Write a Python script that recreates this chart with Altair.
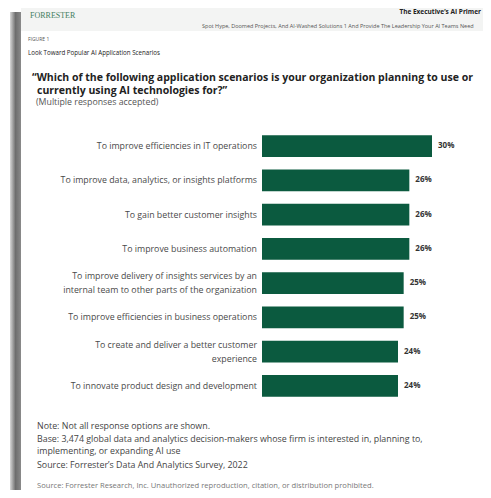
import altair as alt
import pandas as pd

categories = [
    "To improve efficiencies in IT operations",
    "To improve data, analytics, or insights platforms",
    "To gain better customer insights",
    "To improve business automation",
    "To improve delivery of insights services by an\ninternal team to other parts of the organization",
    "To improve efficiencies in business operations",
    "To create and deliver a better customer\nexperience",
    "To innovate product design and development",
]
values = [30, 26, 26, 26, 25, 25, 24, 24]
value_labels = ["30%", "26%", "26%", "26%", "25%", "25%", "24%", "24%"]

df = pd.DataFrame({"cat": categories, "val": values, "lab": value_labels})

FONT = "Open Sans"
W, H = 475, 482
OX, OY = 8, 8
GREEN = "#0b5a3f"

xs = alt.Scale(domain=[0, 30], range=[262 - OX, 432 - OX], nice=False, zero=True)
ys = alt.Scale(domain=categories, range=[121, 395], paddingInner=0.36, paddingOuter=0.18)

base = alt.Chart(df)
Y = alt.Y("cat:N", scale=ys, axis=None, sort=categories)

bars = base.mark_bar(color=GREEN).encode(
    x=alt.X("val:Q", scale=xs, axis=None), y=Y,
)

vals = base.mark_text(align="left", baseline="middle", dx=6, font=FONT,
                      fontSize=8, fontWeight="bold", color="#333333").encode(
    x=alt.X("val:Q", scale=xs, axis=None), y=Y, text="lab:N",
)

cats_one = base.transform_filter("indexof(datum.cat, '\\n') < 0").mark_text(
    align="right", baseline="middle", font=FONT, fontSize=8.8, color="#4a4a4a",
).encode(x=alt.value(257 - OX), y=Y, text="cat:N")

cats_two = base.transform_filter("indexof(datum.cat, '\\n') >= 0").mark_text(
    align="right", baseline="middle", font=FONT, fontSize=8.8, color="#4a4a4a",
    lineBreak="\n", lineHeight=14, dy=-7,
).encode(x=alt.value(257 - OX), y=Y, text="cat:N")


def one():
    return alt.Data(values=[{"k": 1}])


def txt(s, x, y, size, weight="normal", color="#333333", align="left", font=FONT):
    return alt.Chart(one()).mark_text(
        text=s, align=align, baseline="middle", fontSize=size, fontWeight=weight,
        color=color, font=font,
    ).encode(x=alt.value(x - OX), y=alt.value(y - OY))


def rect(x1, x2, y1, y2, color):
    return alt.Chart(one()).mark_rect(color=color).encode(
        x=alt.value(x1 - OX), x2=alt.value(x2 - OX),
        y=alt.value(y1 - OY), y2=alt.value(y2 - OY),
    )


header_bg = rect(21, 500, 3, 31, "#f3f4f3")
shadow = alt.Chart(one()).mark_rect(
    color=alt.LinearGradient(
        gradient="linear", x1=0, x2=1, y1=0, y2=0,
        stops=[alt.GradientStop(color="#d8d8d8", offset=0),
               alt.GradientStop(color="#6e6e6e", offset=0.5),
               alt.GradientStop(color="#8a8a8a", offset=1)],
    )
).encode(x=alt.value(10 - OX), x2=alt.value(21 - OX), y=alt.value(12 - OY), y2=alt.value(H))

layers = [
    header_bg, shadow,
    txt("FORRESTER", 30, 16, 8, color="#3f7d5e", font="Liberation Serif"),
    txt("The Executive\u2019s AI Primer", 481, 12, 6.5, weight="bold", color="#222222", align="right"),
    txt("Spot Hype, Doomed Projects, And AI-Washed Solutions 1 And Provide The Leadership Your AI Teams Need", 202, 26, 5.5, color="#555555"),
    txt("FIGURE 1", 28, 39, 5, color="#555555"),
    txt("Look Toward Popular AI Application Scenarios", 28, 53, 6.2, color="#222222"),
    txt("\u201cWhich of the following application scenarios is your organization planning to use or", 32, 78, 10.5, weight="bold", color="#222222"),
    txt("currently using AI technologies for?\u201d", 37, 91, 10.5, weight="bold", color="#222222"),
    txt("(Multiple responses accepted)", 36, 102, 8.8, color="#555555"),
    bars, vals, cats_one, cats_two,
    txt("Note: Not all response options are shown.", 37, 426, 8.85, color="#444444"),
    txt("Base: 3,474 global data and analytics decision-makers whose firm is interested in, planning to,", 37, 439, 8.85, color="#444444"),
    txt("implementing, or expanding AI use", 37, 451, 8.85, color="#444444"),
    txt("Source: Forrester\u2019s Data And Analytics Survey, 2022", 37, 465, 8.85, color="#444444"),
    txt("Source: Forrester Research, Inc. Unauthorized reproduction, citation, or distribution prohibited.", 37, 486, 7.6, color="#777777"),
]

chart = alt.layer(*layers).properties(
    width=W, height=H, padding=0, background="white",
    autosize=alt.AutoSizeParams(type="none"),
).configure_view(stroke=None)

chart.save("out.html", embed_options={"renderer": "svg", "actions": False})
